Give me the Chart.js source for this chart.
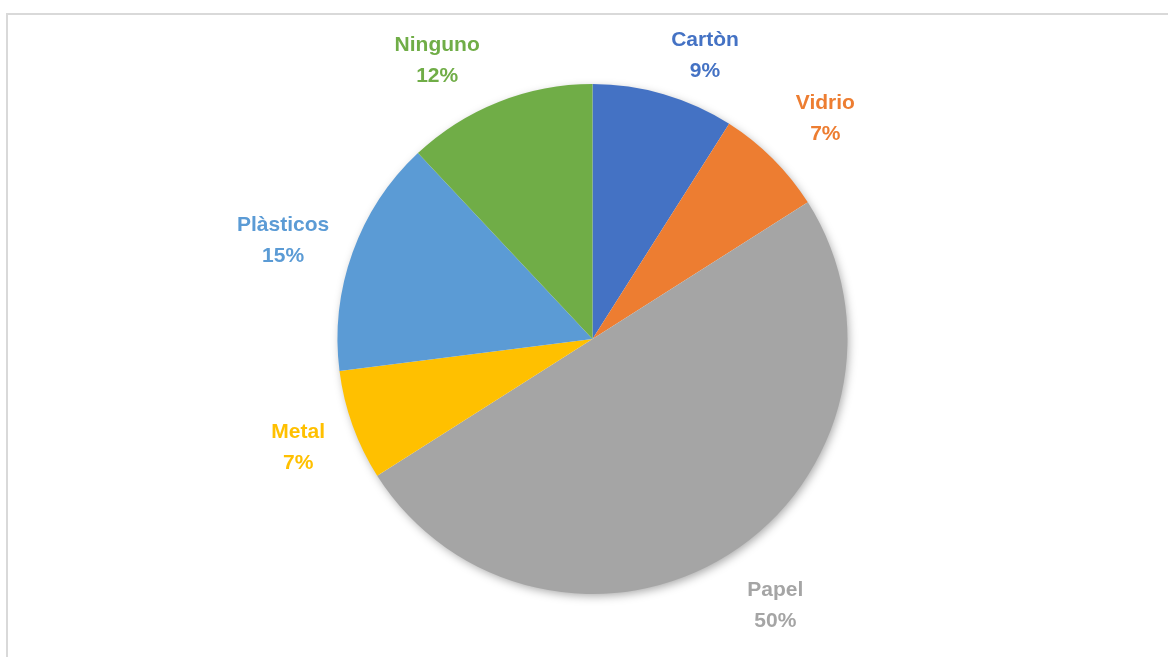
<!DOCTYPE html>
<html>
<head>
<meta charset="utf-8">
<script src="https://cdn.jsdelivr.net/npm/chart.js@4.4.1/dist/chart.umd.min.js"></script>
<style>
  html, body { margin: 0; padding: 0; background: #ffffff; }
  #wrap { position: relative; width: 1168px; height: 657px; }
</style>
</head>
<body>
<div id="wrap"><canvas id="chart" width="1168" height="657"></canvas></div>
<script>
// Material recycled (share of responses, %)
const categories = ['Cartòn', 'Vidrio', 'Papel', 'Metal', 'Plàsticos', 'Ninguno'];
const shares = [9, 7, 50, 7, 15, 12];
const colors = ['#4472C4', '#ED7D31', '#A5A5A5', '#FFC000', '#5B9BD5', '#70AD47'];

// Outer frame around the chart area
const framePlugin = {
  id: 'frame',
  beforeDraw(chart) {
    const ctx = chart.ctx;
    ctx.save();
    ctx.fillStyle = '#ffffff';
    ctx.fillRect(0, 0, chart.width, chart.height);
    ctx.strokeStyle = '#d9d9d9';
    ctx.lineWidth = 2;
    ctx.strokeRect(7, 14, chart.width + 20, chart.height + 20);
    ctx.restore();
  }
};

// Soft drop shadow under the pie
const shadowPlugin = {
  id: 'pieShadow',
  beforeDatasetsDraw(chart) {
    const arc = chart.getDatasetMeta(0).data[0];
    if (!arc) return;
    const ctx = chart.ctx;
    ctx.save();
    ctx.shadowColor = 'rgba(0,0,0,0.35)';
    ctx.shadowBlur = 10;
    ctx.shadowOffsetX = 2;
    ctx.shadowOffsetY = 3;
    ctx.fillStyle = '#ffffff';
    ctx.beginPath();
    ctx.arc(arc.x, arc.y, arc.outerRadius - 1, 0, Math.PI * 2);
    ctx.fill();
    ctx.restore();
  }
};

// Category name + percentage placed outside each slice
const outsideLabels = {
  id: 'outsideLabels',
  afterDatasetsDraw(chart, args, opts) {
    const ctx = chart.ctx;
    const meta = chart.getDatasetMeta(0);
    const data = chart.data.datasets[0].data;
    const total = data.reduce((a, b) => a + b, 0);
    const lineGap = opts.lineGap;
    ctx.save();
    ctx.font = opts.font;
    ctx.textAlign = 'center';
    ctx.textBaseline = 'middle';
    meta.data.forEach((arc, i) => {
      const mid = (arc.startAngle + arc.endAngle) / 2;
      const cx = Math.cos(mid), sy = Math.sin(mid);
      const name = chart.data.labels[i];
      const pct = Math.round(data[i] / total * 100) + '%';
      const w = Math.max(ctx.measureText(name).width, ctx.measureText(pct).width);
      const h = lineGap * 2;
      const r = arc.outerRadius + opts.gap;
      const nudge = opts.nudge[i] || [0, 0];
      const x = arc.x + r * cx + (w / 2) * cx + nudge[0];
      const y = arc.y + r * sy + (h / 2) * sy + nudge[1];
      ctx.fillStyle = colors[i];
      ctx.fillText(name, x, y - lineGap / 2);
      ctx.fillText(pct, x, y + lineGap / 2);
    });
    ctx.restore();
  }
};

new Chart(document.getElementById('chart'), {
  type: 'pie',
  data: {
    labels: categories,
    datasets: [{
      data: shares,
      backgroundColor: colors,
      borderWidth: 0,
      hoverOffset: 0
    }]
  },
  options: {
    responsive: false,
    animation: false,
    layout: { padding: { top: 84, bottom: 63, left: 17, right: 0 } },
    plugins: {
      legend: { display: false },
      tooltip: { enabled: false },
      outsideLabels: {
        font: 'bold 21px "Liberation Sans", Arial, sans-serif',
        lineGap: 31,
        gap: 32,
        nudge: [[23, 22], [9, 5], [14, -2], [1, 1], [4, 9], [-34, 17]]
      }
    }
  },
  plugins: [framePlugin, shadowPlugin, outsideLabels]
});
</script>
</body>
</html>
